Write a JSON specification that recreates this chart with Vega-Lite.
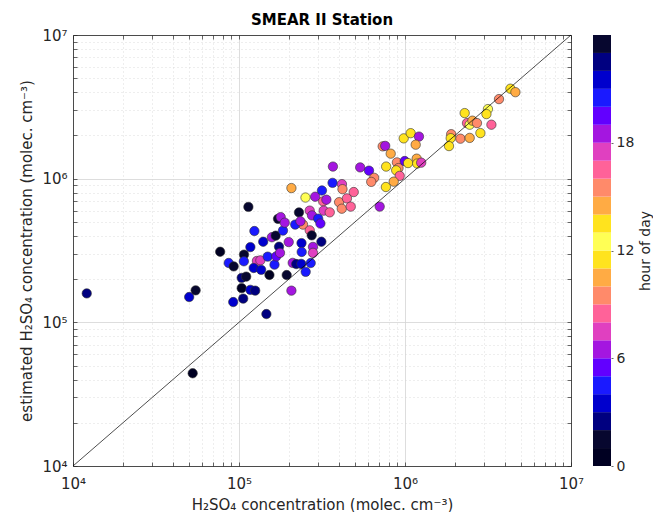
{
  "$schema": "https://vega.github.io/schema/vega-lite/v6.json",
  "background": "white",
  "padding": {"left": 19, "top": 13, "right": 0, "bottom": 0},
  "config": {
    "font": "DejaVu Sans",
    "view": {"stroke": null},
    "axis": {
      "labelFont": "DejaVu Sans", "titleFont": "DejaVu Sans",
      "labelColor": "#262626", "titleColor": "#262626",
      "labelFontSize": 15, "titleFontSize": 15, "titleFontWeight": "normal",
      "domainColor": "#262626", "tickColor": "#262626", "domainWidth": 0.8, "tickWidth": 0.7
    }
  },
  "align": "each",
  "spacing": 9,
  "hconcat": [
    {
      "width": 498,
      "height": 431,
      "title": {"text": "SMEAR II Station", "fontSize": 15, "fontWeight": "bold", "font": "DejaVu Sans", "color": "#000000", "offset": 0},
      "layer": [
        {
          "data": {"values": [
            {"x": 12100, "y": 159000, "hour": 2},
            {"x": 50100, "y": 150000, "hour": 3},
            {"x": 54800, "y": 167000, "hour": 1},
            {"x": 52600, "y": 44200, "hour": 0},
            {"x": 113900, "y": 636000, "hour": 23},
            {"x": 77000, "y": 310000, "hour": 0},
            {"x": 86700, "y": 259000, "hour": 4},
            {"x": 92900, "y": 245000, "hour": 1},
            {"x": 107200, "y": 296000, "hour": 23},
            {"x": 107000, "y": 266000, "hour": 4},
            {"x": 92300, "y": 138400, "hour": 3},
            {"x": 106000, "y": 146200, "hour": 2},
            {"x": 103800, "y": 173000, "hour": 0},
            {"x": 103800, "y": 204000, "hour": 22},
            {"x": 110500, "y": 208000, "hour": 23},
            {"x": 123800, "y": 432000, "hour": 20},
            {"x": 139900, "y": 364000, "hour": 21},
            {"x": 117100, "y": 334000, "hour": 3},
            {"x": 157800, "y": 391000, "hour": 18},
            {"x": 166300, "y": 401000, "hour": 23},
            {"x": 174200, "y": 336000, "hour": 2},
            {"x": 184100, "y": 435000, "hour": 20},
            {"x": 171800, "y": 525000, "hour": 1},
            {"x": 178300, "y": 540000, "hour": 18},
            {"x": 188500, "y": 494000, "hour": 6},
            {"x": 229800, "y": 582000, "hour": 23},
            {"x": 243000, "y": 479000, "hour": 15},
            {"x": 266700, "y": 599000, "hour": 17},
            {"x": 218000, "y": 479000, "hour": 4},
            {"x": 199300, "y": 362000, "hour": 18},
            {"x": 238000, "y": 356000, "hour": 21},
            {"x": 238600, "y": 309000, "hour": 20},
            {"x": 128200, "y": 267500, "hour": 7},
            {"x": 134500, "y": 270000, "hour": 17},
            {"x": 122600, "y": 239000, "hour": 3},
            {"x": 136000, "y": 232000, "hour": 21},
            {"x": 148900, "y": 286600, "hour": 20},
            {"x": 163600, "y": 252000, "hour": 4},
            {"x": 167700, "y": 288000, "hour": 19},
            {"x": 176600, "y": 304500, "hour": 6},
            {"x": 152500, "y": 213700, "hour": 0},
            {"x": 193800, "y": 213400, "hour": 1},
            {"x": 210700, "y": 259400, "hour": 18},
            {"x": 221200, "y": 254500, "hour": 22},
            {"x": 237000, "y": 255300, "hour": 21},
            {"x": 252200, "y": 224600, "hour": 20},
            {"x": 206900, "y": 166200, "hour": 6},
            {"x": 117100, "y": 168400, "hour": 3},
            {"x": 125200, "y": 166200, "hour": 22},
            {"x": 146200, "y": 114200, "hour": 2},
            {"x": 368000, "y": 1214000, "hour": 18},
            {"x": 537000, "y": 1198000, "hour": 6},
            {"x": 206900, "y": 860000, "hour": 14},
            {"x": 251500, "y": 739000, "hour": 12},
            {"x": 287700, "y": 749000, "hour": 18},
            {"x": 316000, "y": 827000, "hour": 20},
            {"x": 366000, "y": 935000, "hour": 4},
            {"x": 417000, "y": 916000, "hour": 17},
            {"x": 420000, "y": 845000, "hour": 9},
            {"x": 321500, "y": 695000, "hour": 16},
            {"x": 336000, "y": 714000, "hour": 6},
            {"x": 401000, "y": 686000, "hour": 15},
            {"x": 416000, "y": 618000, "hour": 9},
            {"x": 447000, "y": 729000, "hour": 8},
            {"x": 491000, "y": 807000, "hour": 16},
            {"x": 471000, "y": 639000, "hour": 8},
            {"x": 323600, "y": 599000, "hour": 7},
            {"x": 352000, "y": 583000, "hour": 16},
            {"x": 275300, "y": 555000, "hour": 18},
            {"x": 300000, "y": 527000, "hour": 4},
            {"x": 309300, "y": 487000, "hour": 19},
            {"x": 234400, "y": 505000, "hour": 6},
            {"x": 266700, "y": 437000, "hour": 8},
            {"x": 274200, "y": 403000, "hour": 23},
            {"x": 313500, "y": 364000, "hour": 22},
            {"x": 279000, "y": 335000, "hour": 18},
            {"x": 279000, "y": 304500, "hour": 17},
            {"x": 270400, "y": 258600, "hour": 20},
            {"x": 2288000, "y": 2860000, "hour": 13},
            {"x": 734000, "y": 1678000, "hour": 15},
            {"x": 760000, "y": 1691000, "hour": 18},
            {"x": 982000, "y": 1908000, "hour": 11},
            {"x": 1082000, "y": 2073000, "hour": 13},
            {"x": 1214000, "y": 1963000, "hour": 6},
            {"x": 1160000, "y": 1724000, "hour": 14},
            {"x": 820000, "y": 1493000, "hour": 10},
            {"x": 607000, "y": 1137000, "hour": 5},
            {"x": 652000, "y": 1013000, "hour": 9},
            {"x": 626000, "y": 950000, "hour": 15},
            {"x": 770000, "y": 1214000, "hour": 11},
            {"x": 894000, "y": 1298000, "hour": 9},
            {"x": 914000, "y": 1185000, "hour": 15},
            {"x": 885000, "y": 1143000, "hour": 13},
            {"x": 996000, "y": 1326000, "hour": 19},
            {"x": 1043000, "y": 1284000, "hour": 11},
            {"x": 1176000, "y": 1378000, "hour": 10},
            {"x": 1184000, "y": 1274000, "hour": 13},
            {"x": 1252000, "y": 1292000, "hour": 7},
            {"x": 929000, "y": 1046000, "hour": 16},
            {"x": 855000, "y": 953000, "hour": 14},
            {"x": 767000, "y": 875000, "hour": 11},
            {"x": 704000, "y": 639000, "hour": 18},
            {"x": 1898000, "y": 2040000, "hour": 15},
            {"x": 1885000, "y": 1913000, "hour": 11},
            {"x": 1841000, "y": 1686000, "hour": 13},
            {"x": 2157000, "y": 1898000, "hour": 9},
            {"x": 2453000, "y": 1922000, "hour": 14},
            {"x": 4315000, "y": 4230000, "hour": 13},
            {"x": 4625000, "y": 4000000, "hour": 10},
            {"x": 3683000, "y": 3580000, "hour": 15},
            {"x": 3160000, "y": 3050000, "hour": 12},
            {"x": 3094000, "y": 2815000, "hour": 11},
            {"x": 2363000, "y": 2437000, "hour": 8},
            {"x": 2453000, "y": 2375000, "hour": 12},
            {"x": 2547000, "y": 2533000, "hour": 14},
            {"x": 2714000, "y": 2437000, "hour": 9},
            {"x": 3315000, "y": 2375000, "hour": 16},
            {"x": 2846000, "y": 2076000, "hour": 13}
          ]},
          "mark": {"type": "circle", "size": 88, "opacity": 1, "stroke": "#303030", "strokeWidth": 0.6},
          "encoding": {
            "x": {
              "field": "x", "type": "quantitative",
              "scale": {"type": "log", "domain": [10000, 10000000], "nice": false},
              "axis": {
                "orient": "bottom",
                "values": [10000,20000,30000,40000,50000,60000,70000,80000,90000,100000,200000,300000,400000,500000,600000,700000,800000,900000,1000000,2000000,3000000,4000000,5000000,6000000,7000000,8000000,9000000,10000000],
                "labelExpr": "datum.value === 10000 ? '10⁴' : datum.value === 100000 ? '10⁵' : datum.value === 1000000 ? '10⁶' : datum.value === 10000000 ? '10⁷' : ''",
                "labelFlush": false, "labelOverlap": false,
                "tickSize": -4, "labelPadding": 14,
                "grid": true,
                "gridColor": "#d4d4d4",
                "gridWidth": 0.8,
                "gridDash": {"condition": {"test": "indexof([10000,100000,1000000,10000000], datum.value) >= 0", "value": []}, "value": [1, 3]},
                "title": "H₂SO₄ concentration (molec. cm⁻³)",
                "titlePadding": 6
              }
            },
            "y": {
              "field": "y", "type": "quantitative",
              "scale": {"type": "log", "domain": [10000, 10000000], "nice": false},
              "axis": {
                "orient": "left",
                "values": [10000,20000,30000,40000,50000,60000,70000,80000,90000,100000,200000,300000,400000,500000,600000,700000,800000,900000,1000000,2000000,3000000,4000000,5000000,6000000,7000000,8000000,9000000,10000000],
                "labelExpr": "datum.value === 10000 ? '10⁴' : datum.value === 100000 ? '10⁵' : datum.value === 1000000 ? '10⁶' : datum.value === 10000000 ? '10⁷' : ''",
                "labelFlush": false, "labelOverlap": false,
                "tickSize": -4, "labelPadding": 10,
                "grid": true,
                "gridColor": "#d4d4d4",
                "gridWidth": 0.8,
                "gridDash": {"condition": {"test": "indexof([10000,100000,1000000,10000000], datum.value) >= 0", "value": []}, "value": [1, 3]},
                "minExtent": 38, "maxExtent": 38,
                "title": "estimated H₂SO₄ concentration (molec. cm⁻³)",
                "titlePadding": 1
              }
            },
            "color": {
              "field": "hour", "type": "quantitative",
              "scale": {"type": "quantize", "domain": [0, 24], "nice": false, "zero": false,
                "range": ["#000022","#07072f","#000080","#0000cd","#1a1aff","#6200ff","#a416e0","#e040c0","#ff6299","#ff8a6a","#ffab44","#ffe31e","#ffff55","#ffe31e","#ffab44","#ff8a6a","#ff6299","#e040c0","#a416e0","#6200ff","#1a1aff","#0000cd","#000080","#07072f"]},
              "legend": null
            }
          }
        },
        {
          "data": {"values": [{"v": 10000}, {"v": 10000000}]},
          "mark": {"type": "line", "color": "#000000", "strokeWidth": 0.7},
          "encoding": {
            "x": {
              "field": "v", "type": "quantitative",
              "scale": {"type": "log", "domain": [10000, 10000000], "nice": false},
              "axis": {
                "orient": "top",
                "values": [10000,20000,30000,40000,50000,60000,70000,80000,90000,100000,200000,300000,400000,500000,600000,700000,800000,900000,1000000,2000000,3000000,4000000,5000000,6000000,7000000,8000000,9000000,10000000],
                "labels": false, "grid": false, "tickSize": -4, "title": null
              }
            },
            "y": {
              "field": "v", "type": "quantitative",
              "scale": {"type": "log", "domain": [10000, 10000000], "nice": false},
              "axis": {
                "orient": "right",
                "values": [10000,20000,30000,40000,50000,60000,70000,80000,90000,100000,200000,300000,400000,500000,600000,700000,800000,900000,1000000,2000000,3000000,4000000,5000000,6000000,7000000,8000000,9000000,10000000],
                "labels": false, "grid": false, "tickSize": -4, "title": null
              }
            }
          }
        }
      ],
      "resolve": {"axis": {"x": "independent", "y": "independent"}}
    },
    {
      "width": 18,
      "height": 431,
      "data": {"values": [
        {"h0": 0, "h1": 1, "hour": 0, "bar": "c"},
        {"h0": 1, "h1": 2, "hour": 1, "bar": "c"},
        {"h0": 2, "h1": 3, "hour": 2, "bar": "c"},
        {"h0": 3, "h1": 4, "hour": 3, "bar": "c"},
        {"h0": 4, "h1": 5, "hour": 4, "bar": "c"},
        {"h0": 5, "h1": 6, "hour": 5, "bar": "c"},
        {"h0": 6, "h1": 7, "hour": 6, "bar": "c"},
        {"h0": 7, "h1": 8, "hour": 7, "bar": "c"},
        {"h0": 8, "h1": 9, "hour": 8, "bar": "c"},
        {"h0": 9, "h1": 10, "hour": 9, "bar": "c"},
        {"h0": 10, "h1": 11, "hour": 10, "bar": "c"},
        {"h0": 11, "h1": 12, "hour": 11, "bar": "c"},
        {"h0": 12, "h1": 13, "hour": 12, "bar": "c"},
        {"h0": 13, "h1": 14, "hour": 13, "bar": "c"},
        {"h0": 14, "h1": 15, "hour": 14, "bar": "c"},
        {"h0": 15, "h1": 16, "hour": 15, "bar": "c"},
        {"h0": 16, "h1": 17, "hour": 16, "bar": "c"},
        {"h0": 17, "h1": 18, "hour": 17, "bar": "c"},
        {"h0": 18, "h1": 19, "hour": 18, "bar": "c"},
        {"h0": 19, "h1": 20, "hour": 19, "bar": "c"},
        {"h0": 20, "h1": 21, "hour": 20, "bar": "c"},
        {"h0": 21, "h1": 22, "hour": 21, "bar": "c"},
        {"h0": 22, "h1": 23, "hour": 22, "bar": "c"},
        {"h0": 23, "h1": 24, "hour": 23, "bar": "c"}
      ]},
      "mark": {"type": "rect"},
      "encoding": {
        "x": {"field": "bar", "type": "nominal", "axis": null, "scale": {"paddingInner": 0, "paddingOuter": 0}},
        "y": {
          "field": "h0", "type": "quantitative",
          "scale": {"domain": [0, 24], "nice": false, "zero": false},
          "axis": {"orient": "right", "values": [0, 6, 12, 18], "title": "hour of day", "titleAngle": 270, "titleBaseline": "top", "titleFontSize": 14, "labelFontSize": 14, "domain": false, "grid": false, "tickSize": 2, "labelPadding": 3, "titlePadding": 5, "labelFlush": false}
        },
        "y2": {"field": "h1"},
        "color": {
          "field": "hour", "type": "quantitative",
          "scale": {"type": "quantize", "domain": [0, 24], "nice": false, "zero": false,
            "range": ["#000022","#07072f","#000080","#0000cd","#1a1aff","#6200ff","#a416e0","#e040c0","#ff6299","#ff8a6a","#ffab44","#ffe31e","#ffff55","#ffe31e","#ffab44","#ff8a6a","#ff6299","#e040c0","#a416e0","#6200ff","#1a1aff","#0000cd","#000080","#07072f"]},
          "legend": null
        }
      }
    }
  ]
}
